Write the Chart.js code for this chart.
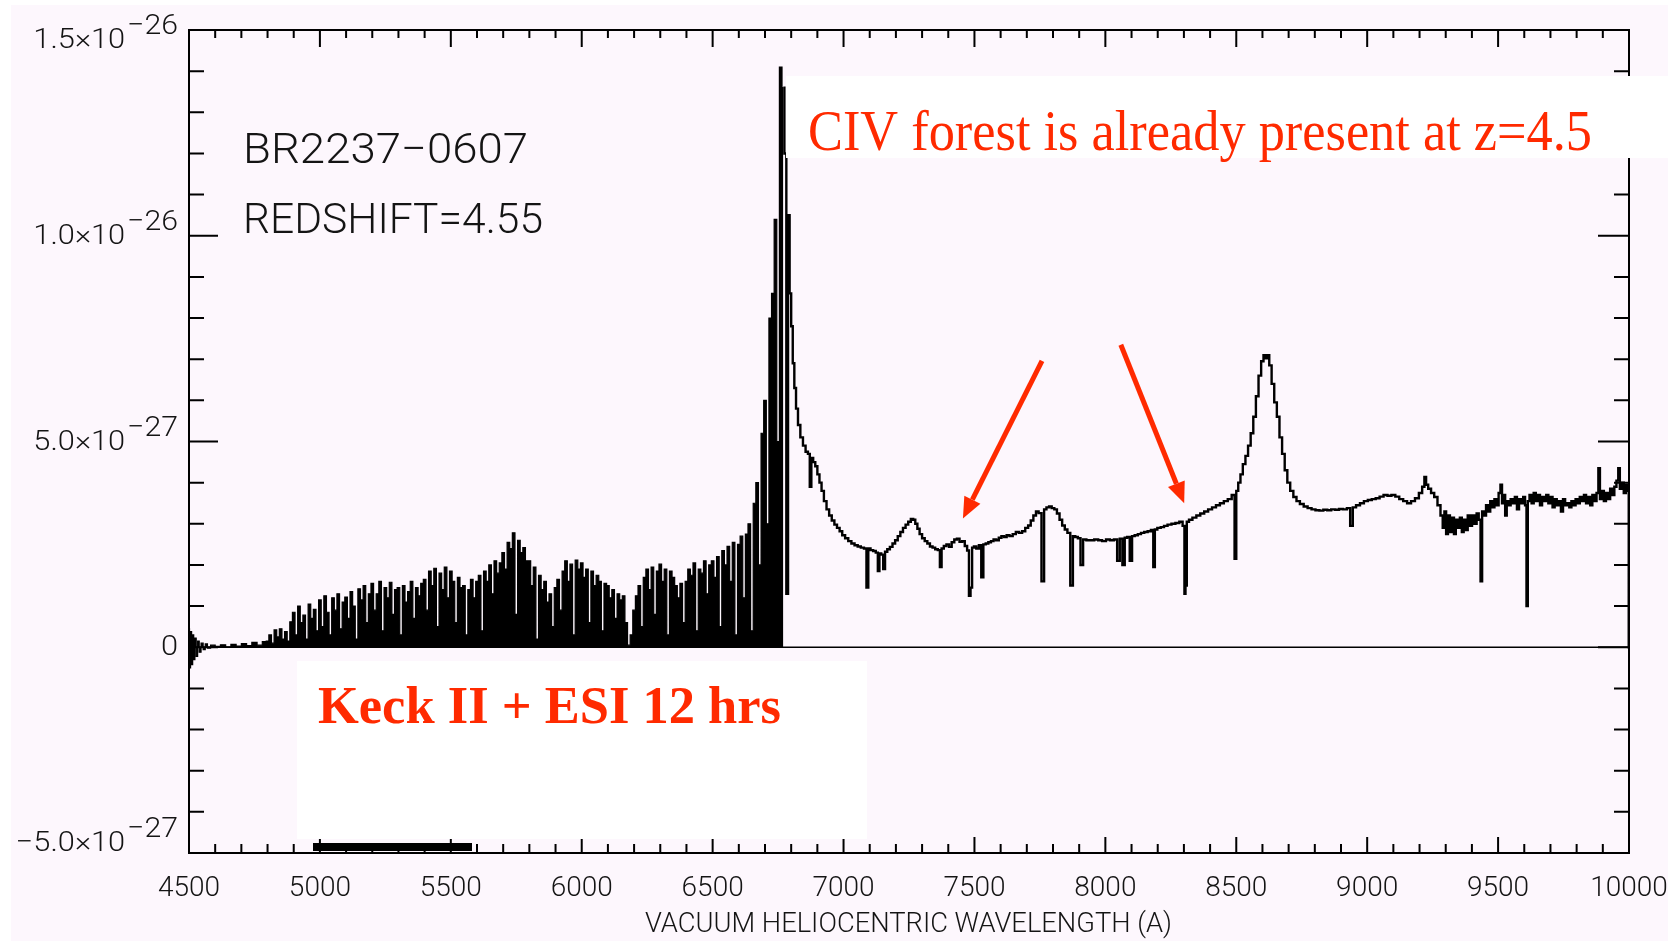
<!DOCTYPE html>
<html>
<head>
<meta charset="utf-8">
<title>BR2237-0607</title>
<script src="https://cdn.jsdelivr.net/npm/chart.js@4.4.1/dist/chart.umd.min.js"></script>
<style>
  html, body { margin: 0; padding: 0; background: #fdf7fd; }
  #spectrum { display: block; }
</style>
</head>
<body>
<canvas id="spectrum" width="1668" height="941"></canvas>
<script>
// flux in units of 1e-27, wavelength in Angstrom
var forestWave = [
  4500, 4504, 4508, 4512, 4516, 4520, 4525, 4530, 4536, 4542,
  4550, 4558, 4566, 4575, 4590, 4610, 4630, 4650, 4670, 4690,
  4710, 4730, 4750, 4770, 4790,
  4800, 4810, 4820, 4830, 4840, 4850, 4860, 4870, 4880, 4890,
  4900, 4910, 4920, 4930, 4940, 4950, 4960, 4970, 4980, 4990,
  5000, 5010, 5020, 5030, 5040, 5050, 5060, 5070, 5080, 5090,
  5100, 5110, 5120, 5130, 5140, 5150, 5160, 5170, 5180, 5190,
  5200, 5210, 5220, 5230, 5240, 5250, 5260, 5270, 5280, 5290,
  5300, 5310, 5320, 5330, 5340, 5350, 5360, 5370, 5380, 5390,
  5400, 5410, 5420, 5430, 5440, 5450, 5460, 5470, 5480, 5490,
  5500, 5510, 5520, 5530, 5540, 5550, 5560, 5570, 5580, 5590,
  5600, 5610, 5620, 5630, 5640, 5650, 5660, 5670, 5680, 5690,
  5700, 5710, 5720, 5730, 5740, 5750, 5760, 5770, 5780, 5790,
  5800, 5810, 5820, 5830, 5840, 5850, 5860, 5870, 5880, 5890,
  5900, 5910, 5920, 5930, 5940, 5950, 5960, 5970, 5980, 5990,
  6000, 6010, 6020, 6030, 6040, 6050, 6060, 6070, 6080, 6090,
  6100, 6110, 6120, 6130, 6140, 6150, 6160, 6170, 6180, 6190,
  6200, 6210, 6220, 6230, 6240, 6250, 6260, 6270, 6280, 6290,
  6300, 6310, 6320, 6330, 6340, 6350, 6360, 6370, 6380, 6390,
  6400, 6410, 6420, 6430, 6440, 6450, 6460, 6470, 6480, 6490,
  6500, 6510, 6520, 6530, 6540, 6550, 6560, 6570, 6580, 6590,
  6600, 6610, 6620, 6630, 6640, 6650, 6660, 6670, 6680, 6690,
  6700, 6710, 6720, 6730, 6740, 6750, 6760, 6770
];
var forestFlux = [
  0.45, -0.5, 0.38, -0.42, 0.3, -0.3, 0.22, -0.22, 0.15, -0.12,
  0.1, -0.06, 0.08, -0.02, 0.05, 0.02, 0.06, 0.01, 0.07, 0.03,
  0.09, 0.04, 0.12, 0.05, 0.14,
  0.15, 0.3, 0.1, 0.42, 0.25, 0.45, 0.2, 0.38, 0.15, 0.62,
  0.85, 0.3, 1.0, 0.6, 0.78, 0.2, 1.05, 0.7, 0.92, 0.4,
  1.15, 0.5, 1.25, 0.85, 0.3, 1.2, 0.9, 1.3, 0.45, 1.1,
  1.22, 0.7, 1.35, 1.0, 0.2, 1.42, 1.15, 1.5, 0.6, 1.3,
  1.55, 0.9, 1.3, 1.6, 0.4, 1.45, 1.2, 1.58, 0.8, 1.4,
  1.45, 0.3, 1.5, 1.1, 1.35, 1.6, 0.7, 1.45, 1.25, 1.55,
  1.65, 0.9, 1.85, 1.5, 1.92, 0.5, 1.8, 1.4, 1.95, 1.2,
  1.85, 1.6, 0.6, 1.7, 1.45, 1.5, 0.3, 1.4, 1.65, 1.2,
  1.6, 1.75, 0.4, 1.85, 1.6, 2.0, 1.3, 2.1, 1.8, 2.05,
  2.3, 1.9, 2.55, 2.4, 2.78, 0.8, 2.6, 2.3, 2.42, 2.1,
  2.1, 1.5, 1.95, 0.2, 1.75, 1.4, 1.6, 1.1, 1.3, 0.5,
  1.45, 1.65, 0.9, 1.85, 2.1, 1.6, 2.02, 0.3, 2.12, 1.9,
  2.05, 1.7, 1.9, 0.6, 1.85, 1.5, 1.75, 1.6, 0.4, 1.55,
  1.5, 1.2, 1.4, 0.7, 1.3, 1.15, 1.25, 0.6, 0.05, 0.3,
  0.9, 1.25, 1.5, 0.5, 1.7, 1.9, 1.4, 1.95, 0.8, 1.85,
  2.02, 1.6, 1.9, 0.3, 1.85, 1.7, 1.5, 1.2, 1.55, 0.6,
  1.6, 1.9, 1.75, 2.05, 0.4, 1.9, 1.8, 2.1, 1.3, 2.0,
  2.1, 1.7, 2.2, 0.5, 2.35, 2.0, 2.45, 1.6, 2.55, 0.3,
  2.5, 2.7, 1.2, 2.75, 3.0, 0.4, 3.5, 4.0, 2.0, 5.2,
  6.0, 3.0, 8.0, 8.6, 10.4, 5.0, 14.1, 13.6
];

var redWave = [
  6770, 6778, 6785, 6791, 6797, 6803, 6809, 6815, 6822, 6830,
  6840, 6850, 6860, 6868, 6874, 6880, 6888, 6896, 6904, 6912,
  6920, 6930, 6940, 6950, 6960, 6970, 6980, 6990, 7000, 7012,
  7024, 7036, 7048, 7060, 7072, 7084, 7091, 7098, 7108, 7118,
  7128, 7134, 7140, 7148, 7155, 7162, 7172, 7182, 7192, 7202,
  7212, 7222, 7232, 7242, 7252, 7262, 7270, 7278, 7286, 7295,
  7305, 7315, 7325, 7335, 7345, 7355, 7365, 7371, 7378, 7388,
  7398, 7408, 7418, 7428, 7438, 7448, 7458, 7468, 7476, 7482,
  7488, 7494, 7502, 7512, 7522, 7530, 7538, 7548, 7558, 7568,
  7578, 7588, 7598, 7608, 7618, 7628, 7640, 7652, 7664, 7676,
  7688, 7700, 7710, 7720, 7730, 7740, 7750, 7762, 7770, 7780,
  7790, 7800, 7810, 7820, 7830, 7840, 7850, 7860, 7872, 7880,
  7890, 7900, 7910, 7920, 7935, 7950, 7965, 7980, 7995, 8010,
  8025, 8040, 8050, 8060, 8070, 8078, 8088, 8098, 8106, 8118,
  8130, 8142, 8155, 8168, 8180, 8186, 8192, 8205, 8218, 8230,
  8245, 8260, 8275, 8290, 8300, 8304, 8308, 8314, 8325, 8340,
  8355, 8370, 8385, 8400, 8415, 8430, 8445, 8460, 8475, 8490,
  8497, 8503, 8512, 8520, 8530, 8540, 8550, 8560, 8570, 8580,
  8590, 8600, 8608, 8615, 8622, 8630, 8640, 8650, 8660, 8670,
  8680, 8690, 8700, 8712, 8724, 8736, 8750, 8765, 8780, 8795,
  8810, 8825, 8840, 8855, 8870, 8885, 8900, 8915, 8930, 8940,
  8950, 8965, 8980, 8995, 9010, 9025, 9040, 9055, 9070, 9085,
  9100, 9115, 9130, 9145, 9160, 9175, 9190, 9205, 9215, 9222,
  9228, 9238, 9250, 9262, 9275, 9285, 9292, 9298, 9305, 9312,
  9320, 9328, 9335, 9342, 9350, 9358, 9365, 9372, 9380, 9388,
  9396, 9405, 9414, 9422, 9430, 9436, 9442, 9450, 9458, 9466,
  9474, 9482, 9490, 9498, 9506, 9512, 9518, 9524, 9530, 9536,
  9544, 9552, 9560, 9568, 9576, 9584, 9592, 9600, 9606, 9611,
  9616, 9624, 9632, 9640, 9648, 9656, 9664, 9672, 9680, 9688,
  9696, 9704, 9712, 9720, 9728, 9736, 9744, 9752, 9760, 9768,
  9776, 9784, 9792, 9800, 9808, 9816, 9824, 9832, 9840, 9848,
  9856, 9864, 9872, 9880, 9886, 9892, 9900, 9908, 9916, 9924,
  9932, 9940, 9948, 9956, 9962, 9968, 9976, 9984, 9992, 9998,
  10000
];
var redFlux = [
  13.6, 12.0, 1.3, 10.5, 8.6, 7.8, 6.9, 6.3, 5.8, 5.4,
  5.1, 4.9, 4.75, 4.7, 3.9, 4.6, 4.5, 4.4, 4.2, 4.0,
  3.8, 3.55, 3.35, 3.2, 3.08, 2.98, 2.9, 2.82, 2.72, 2.65,
  2.58, 2.52, 2.48, 2.45, 2.42, 2.4, 1.45, 2.4, 2.36, 2.34,
  2.3, 1.85, 2.28, 2.25, 1.9, 2.32, 2.38, 2.44, 2.52, 2.6,
  2.7, 2.8, 2.9, 2.98, 3.05, 3.12, 3.1, 3.0, 2.88, 2.75,
  2.65, 2.58, 2.52, 2.45, 2.42, 2.38, 2.36, 1.95, 2.4, 2.46,
  2.5, 2.44, 2.55, 2.62, 2.64, 2.56, 2.58, 2.46, 2.35, 1.25,
  1.45, 2.42, 2.45, 2.4, 2.48, 1.7, 2.5, 2.52, 2.55, 2.58,
  2.62, 2.6, 2.66, 2.7, 2.68, 2.72, 2.7, 2.75, 2.8, 2.78,
  2.82, 2.9, 2.96, 3.08, 3.2, 3.3, 3.26, 1.6, 3.35, 3.4,
  3.42, 3.38, 3.35, 3.25, 3.1, 2.96, 2.86, 2.78, 1.5, 2.7,
  2.68, 2.65, 2.0, 2.62, 2.6, 2.6, 2.62, 2.6, 2.58, 2.62,
  2.6, 2.62, 2.1, 2.64, 2.0, 2.66, 2.68, 2.1, 2.7, 2.72,
  2.75, 2.78, 2.8, 2.82, 2.85, 1.95, 2.86, 2.9, 2.92, 2.95,
  2.98, 3.0, 3.02, 3.05, 2.95, 1.3, 1.5, 3.05, 3.1, 3.15,
  3.2, 3.25, 3.3, 3.35, 3.4, 3.45, 3.5, 3.55, 3.6, 3.7,
  2.15, 3.8, 4.0, 4.2, 4.45, 4.65, 4.9, 5.2, 5.6, 6.1,
  6.6, 6.95, 7.1, 7.02, 7.1, 6.85, 6.4, 5.95, 5.6, 5.1,
  4.7, 4.3, 4.0, 3.8, 3.65, 3.55, 3.48, 3.42, 3.38, 3.35,
  3.33, 3.32, 3.34, 3.33, 3.35, 3.34, 3.36, 3.35, 3.38, 2.95,
  3.4, 3.45, 3.5, 3.55, 3.58, 3.6, 3.62, 3.66, 3.7, 3.68,
  3.7, 3.66, 3.6, 3.55, 3.5, 3.55, 3.62, 3.75, 3.9, 4.14,
  3.95, 3.85, 3.75, 3.65, 3.45, 3.2, 2.9, 3.3, 2.75, 3.2,
  2.8, 3.15, 2.75, 3.1, 2.9, 3.15, 2.8, 3.1, 2.85, 3.2,
  2.95, 3.2, 3.0, 3.25, 3.1, 1.6, 3.3, 3.2, 3.45, 3.3,
  3.55, 3.4, 3.6, 3.45, 3.75, 3.95, 3.5, 3.7, 3.2, 3.55,
  3.45, 3.6, 3.5, 3.65, 3.35, 3.6, 3.5, 3.65, 3.45, 1.0,
  3.55, 3.7, 3.5, 3.75, 3.55, 3.7, 3.45, 3.65, 3.55, 3.7,
  3.5, 3.65, 3.4, 3.6, 3.45, 3.55, 3.3, 3.6, 3.45, 3.5,
  3.4, 3.55, 3.45, 3.6, 3.5, 3.65, 3.55, 3.7, 3.5, 3.65,
  3.45, 3.7, 3.55, 3.75, 4.35, 3.6, 3.8, 3.55, 3.75, 3.6,
  3.85, 3.7, 3.9, 4.05, 4.35, 3.85, 4.0, 3.75, 3.95, 3.8,
  0
];

var xTickValues = [4500, 5000, 5500, 6000, 6500, 7000, 7500, 8000, 8500, 9000, 9500, 10000];
var xTickLabels = ['4500', '5000', '5500', '6000', '6500', '7000', '7500', '8000', '8500', '9000', '9500', '10000'];
var yTickValues = [-5, 0, 5, 10, 15];
var yTickMantissa = ['\u22125.0\u00d710', '0', '5.0\u00d710', '1.0\u00d710', '1.5\u00d710'];
var yTickExponent = ['\u221227', '', '\u221227', '\u221226', '\u221226'];

// arrows pointing at the CIV absorbers, in (wavelength, flux) units
var arrowTails = [[7758, 6.96], [8059, 7.35]];
var arrowTips = [[7456, 3.13], [8301, 3.50]];

var RED = '#ff2a00';
var INK = '#141414';
var AXIS_FONT = '300 28px Roboto';

function toPoints(wave, flux) {
  return wave.map(function(w, i) { return { x: w, y: flux[i] }; });
}

function fittedText(ctx, text, left, y, width, font, color) {
  ctx.save();
  ctx.font = font;
  ctx.fillStyle = color;
  ctx.textAlign = 'left';
  ctx.textBaseline = 'alphabetic';
  var w = ctx.measureText(text).width;
  ctx.translate(left, y);
  ctx.scale(width / w, 1);
  ctx.fillText(text, 0, 0);
  ctx.restore();
}

// right-aligned text, stretched sideways a little like the plotter font
function wideText(ctx, text, right, y, stretch) {
  ctx.save();
  ctx.translate(right, y);
  ctx.scale(stretch, 1);
  ctx.fillText(text, 0, 0);
  ctx.restore();
  return ctx.measureText(text).width * stretch;
}

function arrow(ctx, x0, y0, x1, y1) {
  var ang = Math.atan2(y1 - y0, x1 - x0);
  var head = 21, half = 9;
  var bx = x1 - head * Math.cos(ang), by = y1 - head * Math.sin(ang);
  ctx.save();
  ctx.strokeStyle = RED;
  ctx.fillStyle = RED;
  ctx.lineWidth = 5;
  ctx.beginPath();
  ctx.moveTo(x0, y0);
  ctx.lineTo(bx, by);
  ctx.stroke();
  ctx.beginPath();
  ctx.moveTo(x1, y1);
  ctx.lineTo(bx + half * Math.sin(ang), by - half * Math.cos(ang));
  ctx.lineTo(bx - half * Math.sin(ang), by + half * Math.cos(ang));
  ctx.closePath();
  ctx.fill();
  ctx.restore();
}

var idlFrame = {
  id: 'idlFrame',
  beforeDraw: function(chart) {
    var ctx = chart.ctx;
    ctx.save();
    ctx.fillStyle = '#fdf7fd';
    ctx.fillRect(0, 0, chart.width, chart.height);
    ctx.fillStyle = '#ffffff';
    ctx.fillRect(0, 0, 11, chart.height);
    ctx.fillRect(0, 0, chart.width, 5);
    ctx.restore();
  },
  afterDraw: function(chart) {
    var ctx = chart.ctx;
    var a = chart.chartArea;
    var xs = chart.scales.x, ys = chart.scales.y;
    var v, p, major, i;

    ctx.save();
    ctx.strokeStyle = '#000';

    // zero level
    ctx.lineWidth = 1.5;
    ctx.beginPath();
    ctx.moveTo(a.left, ys.getPixelForValue(0));
    ctx.lineTo(a.right, ys.getPixelForValue(0));
    ctx.stroke();

    // box and inward ticks
    ctx.lineWidth = 2;
    ctx.strokeRect(a.left, a.top, a.right - a.left, a.bottom - a.top);
    ctx.beginPath();
    for (v = xs.min; v <= xs.max; v += 100) {
      major = v % 500 === 0;
      p = xs.getPixelForValue(v);
      ctx.moveTo(p, a.bottom); ctx.lineTo(p, a.bottom - (major ? 16 : 9));
      ctx.moveTo(p, a.top); ctx.lineTo(p, a.top + (major ? 17 : 8));
    }
    for (v = ys.min; v <= ys.max; v += 1) {
      major = v % 5 === 0;
      p = ys.getPixelForValue(v);
      ctx.moveTo(a.left, p); ctx.lineTo(a.left + (major ? 29 : 15), p);
      ctx.moveTo(a.right, p); ctx.lineTo(a.right - (major ? 31 : 15), p);
    }
    ctx.stroke();

    // tick labels
    ctx.fillStyle = INK;
    ctx.font = AXIS_FONT;
    ctx.textAlign = 'center';
    ctx.textBaseline = 'middle';
    for (i = 0; i < xTickValues.length; i++) {
      ctx.fillText(xTickLabels[i], xs.getPixelForValue(xTickValues[i]), 889);
    }
    ctx.textAlign = 'right';
    for (i = 0; i < yTickValues.length; i++) {
      p = ys.getPixelForValue(yTickValues[i]);
      p = Math.min(Math.max(p, a.top + 10), a.bottom - 10);
      var right = 178;
      if (yTickExponent[i]) {
        right -= wideText(ctx, yTickExponent[i], right, p - 13, 1.08) + 2;
      }
      wideText(ctx, yTickMantissa[i], right, p + 1, 1.1);
    }
    fittedText(ctx, 'VACUUM HELIOCENTRIC WAVELENGTH (A)', 645, 932, 527, AXIS_FONT, INK);

    // object labels
    fittedText(ctx, 'BR2237\u22120607', 243, 163, 285, '300 42px Roboto', INK);
    fittedText(ctx, 'REDSHIFT=4.55', 243, 233, 300, '300 42px Roboto', INK);

    // slide annotations
    ctx.fillStyle = '#ffffff';
    ctx.fillRect(786, 76, chart.width - 786, 82);
    ctx.fillRect(297, 661, 570, 178);
    fittedText(ctx, 'CIV forest is already present at z=4.5', 808, 150, 784,
      '56px "Liberation Serif", "Times New Roman", serif', RED);
    fittedText(ctx, 'Keck II + ESI 12 hrs', 318, 723, 463,
      'bold 53px "Liberation Serif", "Times New Roman", serif', RED);

    for (i = 0; i < arrowTails.length; i++) {
      arrow(ctx,
        xs.getPixelForValue(arrowTails[i][0]), ys.getPixelForValue(arrowTails[i][1]),
        xs.getPixelForValue(arrowTips[i][0]), ys.getPixelForValue(arrowTips[i][1]));
    }

    ctx.fillStyle = '#000';
    ctx.fillRect(313, 843, 159, 8);
    ctx.restore();
  }
};

var chart = new Chart(document.getElementById('spectrum').getContext('2d'), {
  type: 'line',
  data: {
    datasets: [{
      label: 'Ly alpha forest',
      data: toPoints(forestWave, forestFlux),
      borderColor: '#000',
      backgroundColor: '#000',
      borderWidth: 1.2,
      fill: 'origin',
      stepped: 'middle',
      pointRadius: 0
    }, {
      label: 'red continuum',
      data: toPoints(redWave, redFlux),
      borderColor: '#000',
      borderWidth: 2.4,
      fill: false,
      stepped: 'middle',
      pointRadius: 0
    }]
  },
  options: {
    responsive: false,
    devicePixelRatio: 1,
    animation: false,
    layout: { padding: { left: 189, right: 39, top: 30, bottom: 88 } },
    scales: {
      x: { type: 'linear', display: false, min: 4500, max: 10000 },
      y: { type: 'linear', display: false, min: -5, max: 15 }
    },
    plugins: {
      legend: { display: false },
      tooltip: { enabled: false }
    }
  },
  plugins: [idlFrame]
});
</script>
</body>
</html>
